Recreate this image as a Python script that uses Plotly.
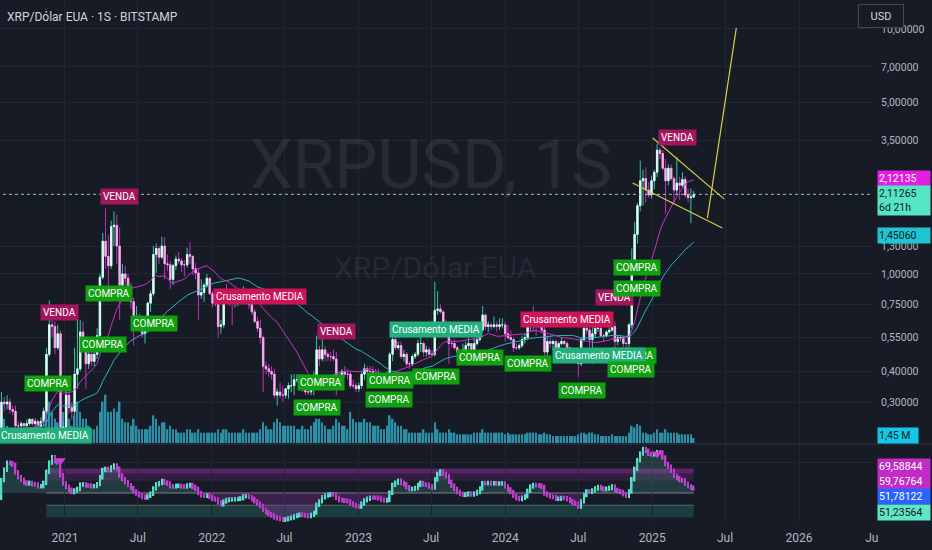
import math
import pandas as pd
import plotly.graph_objects as go

# weekly XRP/USD candles (Bitstamp), one row per month
first_open = 0.200
closes = [
    0.198, 0.195, 0.183, 0.178, 0.180,
    0.198, 0.197, 0.224, 0.300,
    0.295, 0.300, 0.280, 0.275, 0.240,
    0.240, 0.245, 0.240, 0.245,
    0.255, 0.245, 0.250, 0.240,
    0.250, 0.275, 0.470, 0.620, 0.610,
    0.500, 0.570, 0.230, 0.237,
    0.320, 0.285, 0.275, 0.390,
    0.410, 0.580, 0.490, 0.430,
    0.470, 0.440, 0.470, 0.560, 0.970,
    1.360, 1.180, 1.080, 1.560,
    1.580, 1.300, 0.900, 1.000, 0.960,
    0.860, 0.770, 0.640, 0.650,
    0.620, 0.570, 0.620, 0.760,
    0.830, 1.200, 1.270, 1.170, 1.300,
    1.100, 1.090, 0.950, 1.080,
    1.150, 1.130, 1.090, 1.090,
    1.200, 1.180, 1.050, 1.010, 0.820,
    0.840, 0.900, 0.960, 0.830,
    0.760, 0.790, 0.610, 0.620, 0.830,
    0.800, 0.780, 0.760, 0.770,
    0.770, 0.800, 0.860, 0.810,
    0.750, 0.700, 0.640, 0.600,
    0.550, 0.420, 0.410, 0.400, 0.390,
    0.320, 0.330, 0.320, 0.320,
    0.340, 0.350, 0.350, 0.370,
    0.370, 0.370, 0.340, 0.330, 0.330,
    0.350, 0.370, 0.490, 0.450,
    0.490, 0.470, 0.460, 0.460, 0.450,
    0.380, 0.380, 0.400, 0.390,
    0.390, 0.350, 0.350, 0.340,
    0.350, 0.390, 0.410, 0.400, 0.400,
    0.390, 0.390, 0.380, 0.370,
    0.370, 0.380, 0.470, 0.540,
    0.500, 0.510, 0.460, 0.470,
    0.430, 0.430, 0.460, 0.470, 0.520,
    0.520, 0.480, 0.490, 0.470,
    0.470, 0.710, 0.720, 0.700, 0.630,
    0.610, 0.520, 0.520, 0.500,
    0.480, 0.480, 0.490, 0.510,
    0.520, 0.490, 0.520, 0.540, 0.590,
    0.680, 0.610, 0.620, 0.610,
    0.620, 0.610, 0.620, 0.620,
    0.570, 0.550, 0.540, 0.500, 0.500,
    0.510, 0.540, 0.550, 0.630,
    0.650, 0.630, 0.610, 0.610,
    0.590, 0.480, 0.530, 0.520, 0.530,
    0.500, 0.520, 0.530, 0.520,
    0.500, 0.480, 0.470, 0.470,
    0.430, 0.540, 0.600, 0.590, 0.540,
    0.570, 0.600, 0.600, 0.560,
    0.560, 0.580, 0.590, 0.610, 0.530,
    0.550, 0.550, 0.520, 0.520,
    0.620, 1.100, 1.450, 1.900,
    2.400, 2.450, 2.200, 2.100, 2.400,
    2.600, 3.200, 3.100, 2.700,
    2.400, 2.700, 2.450, 2.200,
    2.350, 2.300, 2.430, 2.100, 2.050,
    2.060, 2.113,
]
highs = [
    0.215, 0.205, 0.198, 0.185, 0.185,
    0.205, 0.205, 0.230, 0.330,
    0.315, 0.320, 0.310, 0.290, 0.290,
    0.250, 0.250, 0.248, 0.255,
    0.258, 0.258, 0.258, 0.255,
    0.260, 0.285, 0.500, 0.780, 0.700,
    0.640, 0.620, 0.590, 0.250,
    0.350, 0.330, 0.300, 0.500,
    0.750, 0.650, 0.640, 0.530,
    0.490, 0.490, 0.510, 0.600, 1.000,
    1.470, 1.850, 1.440, 1.650,
    1.800, 1.750, 1.550, 1.100, 1.080,
    1.000, 0.920, 0.800, 0.740,
    0.690, 0.640, 0.640, 0.770,
    0.860, 1.300, 1.330, 1.300, 1.420,
    1.410, 1.200, 1.130, 1.100,
    1.190, 1.230, 1.160, 1.140,
    1.280, 1.350, 1.190, 1.110, 1.050,
    0.950, 0.920, 1.000, 0.970,
    0.850, 0.800, 0.790, 0.650, 0.850,
    0.910, 0.870, 0.800, 0.830,
    0.800, 0.830, 0.890, 0.870,
    0.830, 0.790, 0.720, 0.670,
    0.650, 0.560, 0.440, 0.430, 0.420,
    0.410, 0.340, 0.360, 0.350,
    0.340, 0.360, 0.390, 0.390,
    0.390, 0.390, 0.380, 0.350, 0.340,
    0.360, 0.400, 0.560, 0.510,
    0.550, 0.510, 0.480, 0.480, 0.490,
    0.480, 0.400, 0.410, 0.420,
    0.410, 0.400, 0.370, 0.360,
    0.360, 0.400, 0.430, 0.420, 0.420,
    0.420, 0.410, 0.410, 0.390,
    0.390, 0.400, 0.480, 0.560,
    0.550, 0.530, 0.530, 0.490,
    0.480, 0.440, 0.470, 0.480, 0.540,
    0.560, 0.530, 0.510, 0.500,
    0.490, 0.930, 0.850, 0.750, 0.710,
    0.650, 0.640, 0.540, 0.540,
    0.510, 0.490, 0.520, 0.530,
    0.550, 0.520, 0.550, 0.570, 0.610,
    0.740, 0.690, 0.640, 0.630,
    0.670, 0.640, 0.660, 0.660,
    0.640, 0.620, 0.590, 0.550, 0.520,
    0.520, 0.560, 0.570, 0.670,
    0.700, 0.740, 0.660, 0.650,
    0.620, 0.630, 0.560, 0.560, 0.540,
    0.540, 0.530, 0.550, 0.540,
    0.530, 0.500, 0.500, 0.490,
    0.480, 0.550, 0.640, 0.630, 0.640,
    0.640, 0.640, 0.640, 0.610,
    0.570, 0.590, 0.620, 0.660, 0.640,
    0.560, 0.560, 0.560, 0.530,
    0.630, 1.270, 1.630, 1.950,
    2.900, 2.660, 2.720, 2.370, 2.520,
    2.660, 3.400, 3.280, 3.200,
    2.950, 2.800, 2.800, 2.500,
    3.000, 2.490, 2.600, 2.500, 2.230,
    2.230, 2.180,
]
lows = [
    0.195, 0.185, 0.178, 0.170, 0.172,
    0.178, 0.190, 0.195, 0.222,
    0.275, 0.280, 0.270, 0.265, 0.225,
    0.228, 0.235, 0.230, 0.238,
    0.240, 0.240, 0.240, 0.230,
    0.235, 0.240, 0.270, 0.460, 0.550,
    0.470, 0.490, 0.205, 0.200,
    0.230, 0.270, 0.255, 0.265,
    0.340, 0.400, 0.480, 0.340,
    0.410, 0.420, 0.420, 0.450, 0.550,
    0.950, 1.050, 0.880, 1.050,
    1.300, 1.100, 0.650, 0.820, 0.900,
    0.770, 0.720, 0.510, 0.620,
    0.590, 0.550, 0.520, 0.600,
    0.700, 0.810, 1.010, 1.100, 1.150,
    0.950, 1.030, 0.870, 0.900,
    1.040, 1.100, 1.020, 0.980,
    1.060, 1.100, 0.990, 0.950, 0.650,
    0.790, 0.770, 0.880, 0.820,
    0.730, 0.740, 0.550, 0.570, 0.600,
    0.760, 0.740, 0.620, 0.730,
    0.740, 0.750, 0.790, 0.800,
    0.720, 0.680, 0.630, 0.580,
    0.520, 0.330, 0.390, 0.380, 0.370,
    0.310, 0.290, 0.310, 0.300,
    0.310, 0.310, 0.330, 0.320,
    0.360, 0.360, 0.330, 0.320, 0.320,
    0.320, 0.320, 0.360, 0.420,
    0.440, 0.440, 0.440, 0.440, 0.440,
    0.320, 0.360, 0.360, 0.380,
    0.370, 0.340, 0.340, 0.330,
    0.330, 0.340, 0.370, 0.390, 0.390,
    0.370, 0.360, 0.370, 0.360,
    0.350, 0.360, 0.370, 0.440,
    0.490, 0.490, 0.450, 0.440,
    0.420, 0.410, 0.420, 0.450, 0.460,
    0.480, 0.460, 0.460, 0.460,
    0.460, 0.460, 0.680, 0.690, 0.620,
    0.600, 0.430, 0.500, 0.490,
    0.470, 0.460, 0.480, 0.490,
    0.490, 0.470, 0.480, 0.510, 0.530,
    0.580, 0.590, 0.580, 0.590,
    0.600, 0.580, 0.590, 0.600,
    0.530, 0.540, 0.530, 0.480, 0.490,
    0.490, 0.500, 0.520, 0.540,
    0.580, 0.580, 0.560, 0.600,
    0.570, 0.420, 0.460, 0.500, 0.490,
    0.490, 0.490, 0.510, 0.510,
    0.480, 0.460, 0.460, 0.460,
    0.380, 0.420, 0.530, 0.570, 0.500,
    0.430, 0.550, 0.580, 0.550,
    0.530, 0.550, 0.570, 0.580, 0.500,
    0.510, 0.530, 0.500, 0.490,
    0.500, 0.600, 1.050, 1.330,
    1.800, 1.900, 1.960, 2.050, 2.030,
    2.220, 2.480, 2.940, 2.650,
    1.770, 2.300, 2.400, 1.950,
    2.100, 2.000, 2.240, 2.050, 1.960,
    1.610, 2.050,
]
volumes = [  # millions
    3, 3, 3, 3, 3,
    3, 3, 4, 8,
    7, 5, 4, 3, 4,
    3, 3, 3, 3,
    2.5, 2.5, 2.5, 2.5,
    3, 4, 9, 12, 9,
    7, 6, 12, 9,
    9, 7, 5, 8,
    12, 9, 7, 7,
    5, 4, 4, 5, 9,
    12, 14, 9, 9,
    10, 9, 12, 7, 6,
    6, 5, 7, 5,
    4, 4, 4, 4,
    5, 8, 7, 5, 6,
    6, 4, 5, 4,
    4, 3, 3, 3,
    4, 4, 3, 3, 4,
    3, 3, 3, 3,
    3, 3, 4, 3, 4,
    4, 3, 3, 3,
    3, 3, 4, 3,
    3, 3, 3, 3,
    4, 6, 5, 4, 4,
    6, 7, 6, 5,
    5, 5, 5, 5,
    4, 4, 5, 4, 4,
    5, 6, 7, 7,
    6, 5, 4, 4, 5,
    7, 6, 5, 5,
    4, 9, 7, 6,
    6, 6, 7, 6, 6,
    5, 5, 5, 4,
    4, 5, 8, 7,
    6, 5, 5, 4,
    4, 3, 3, 3, 3,
    3, 4, 3, 3,
    3, 6, 4, 3, 3,
    3, 4, 3, 3,
    2.5, 2.5, 2.5, 2.5,
    2.5, 2.5, 3, 3, 3,
    4, 3, 3, 3,
    3, 3, 3, 3,
    2.5, 3, 2.5, 2.5, 2.5,
    2.5, 2.5, 2.5, 3,
    3, 3, 3, 2.5,
    2.5, 3, 2.5, 2.5, 2,
    2, 2, 2, 2,
    2, 2, 2, 2,
    2.5, 3, 3, 2.5, 3,
    3, 2.5, 2.5, 2,
    2, 2, 2, 2.5, 2,
    2, 2, 2, 2,
    3, 5, 4.5, 5.5,
    5, 3, 3, 2.5, 2.5,
    3, 4, 3, 3,
    4, 3, 3, 3,
    3, 2.5, 2.5, 2.5, 2.5,
    2.5, 1.45,
]

# script signals (label date, price, kind)
sig_dates = ["2020-11-12", "2020-11-20", "2020-12-19", "2021-04-05", "2021-04-20",
             "2021-05-17", "2021-08-10", "2022-04-30", "2022-09-29", "2022-09-19",
             "2022-11-08", "2023-03-21", "2023-03-19", "2023-07-12", "2023-07-14",
             "2023-10-31", "2024-02-28", "2024-06-04", "2024-11-13", "2024-08-22",
             "2024-07-09", "2024-11-08", "2024-09-29", "2024-11-25", "2024-11-25",
             "2025-03-04"]
sig_prices = [0.220, 0.356, 0.693, 0.513, 0.836,
              2.08, 0.625, 0.806, 0.362, 0.284,
              0.585, 0.366, 0.306, 0.380, 0.591,
              0.454, 0.433, 0.649, 0.463, 0.463,
              0.333, 0.409, 0.798, 0.869, 1.058,
              3.59]
sig_kinds = ["cross_up", "buy", "sell", "buy", "buy",
             "sell", "buy", "cross_dn", "buy", "buy",
             "sell", "buy", "buy", "buy", "cross_up",
             "buy", "buy", "cross_dn", "buy", "cross_up",
             "buy", "buy", "sell", "buy", "buy",
             "sell"]

# hand-drawn trend lines
trend_upper_dates = ["2025-01-02", "2025-06-29"]
trend_upper_prices = [3.59, 2.02]
trend_lower_dates = ["2024-11-13", "2025-06-24"]
trend_lower_prices = [2.35, 1.54]
trend_target_dates = ["2025-05-18", "2025-07-29"]
trend_target_prices = [1.69, 10.1]

price_ticks = [0.2, 0.3, 0.4, 0.55, 0.75, 1.0, 1.3, 3.5, 5.0, 7.0, 10.0]
x_ticks = ["2021-01-01", "2021-07-01", "2022-01-01", "2022-07-01", "2023-01-01",
           "2023-07-01", "2024-01-01", "2024-07-01", "2025-01-01", "2025-07-01",
           "2026-01-01", "2026-07-01"]
x_tick_text = ["2021", "Jul", "2022", "Jul", "2023", "Jul", "2024", "Jul",
               "2025", "Jul", "2026", "Ju"]

osc_levels = [70, 66, 60, 50, 40, 30]
osc_band_start = "2020-11-16"
osc_mark_dates = ["2020-12-21", "2025-01-13"]
osc_mark_levels = [76.5, 82.0]

weeks = pd.date_range("2020-06-01", periods=len(closes), freq="W-MON")
opens = [first_open] + closes[:-1]
body_hi = [max(o, c) for o, c in zip(opens, closes)]
body_lo = [min(o, c) for o, c in zip(opens, closes)]

cs = pd.Series(closes, index=weeks)
ma_fast = cs.rolling(20, min_periods=1).mean()
ma_slow = cs.rolling(50, min_periods=1).mean()

diff = cs.diff().fillna(0)
gain = diff.clip(lower=0).ewm(alpha=1 / 14, adjust=False).mean()
loss = (-diff.clip(upper=0)).ewm(alpha=1 / 14, adjust=False).mean()
rsi = (100 - 100 / (1 + gain / loss.replace(0, 1e-9))).fillna(50)
osc = rsi.ewm(span=5, adjust=False).mean()
osc_prev = osc.shift(1).fillna(osc.iloc[0])

BG = "#171b26"
GRID = "#222632"
TXT = "#b2b5be"
FONT = "Roboto"
DAY = 86400000
RIB = 1.8  # half thickness of the oscillator ribbon

fig = go.Figure()

# volume on the base axis so candles sit above it
fig.add_trace(go.Bar(x=weeks, y=volumes, width=4 * DAY, marker_color="#2b8fa8",
                     marker_line_width=0, xaxis="x", yaxis="y", hoverinfo="skip"))

# wicks
fig.add_trace(go.Candlestick(
    x=weeks, open=opens, high=highs, low=lows, close=closes,
    xaxis="x", yaxis="y3", whiskerwidth=0,
    increasing=dict(line=dict(color="#33c9a0", width=1), fillcolor="#33c9a0"),
    decreasing=dict(line=dict(color="#c42fc0", width=1), fillcolor="#c42fc0"),
    hoverinfo="skip"))
# bodies
fig.add_trace(go.Candlestick(
    x=weeks, open=opens, high=body_hi, low=body_lo, close=closes,
    xaxis="x", yaxis="y3", whiskerwidth=0,
    increasing=dict(line=dict(color="#e8fbf8", width=0.8), fillcolor="#e8fbf8"),
    decreasing=dict(line=dict(color="#efb7e4", width=0.8), fillcolor="#efb7e4"),
    hoverinfo="skip"))

fig.add_trace(go.Scatter(x=weeks, y=ma_slow, mode="lines", xaxis="x", yaxis="y3",
                         line=dict(color="#26b6c2", width=1)))
fig.add_trace(go.Scatter(x=weeks, y=ma_fast, mode="lines", xaxis="x", yaxis="y3",
                         line=dict(color="#c833c8", width=1)))

# last price line
fig.add_trace(go.Scatter(x=["2020-07-01", "2026-08-01"], y=[closes[-1]] * 2, mode="lines",
                         xaxis="x", yaxis="y3",
                         line=dict(color="#8fc8c0", width=1, dash="dot")))

for d, p in [(trend_upper_dates, trend_upper_prices),
             (trend_lower_dates, trend_lower_prices),
             (trend_target_dates, trend_target_prices)]:
    fig.add_trace(go.Scatter(x=d, y=p, mode="lines", xaxis="x", yaxis="y3",
                             line=dict(color="#d9cc45", width=1.2)))

# oscillator pane: shaded area between the line and the midline
mid = [osc_levels[3]] * len(weeks)
fig.add_trace(go.Scatter(x=weeks, y=mid, mode="lines", line=dict(width=0), xaxis="x2", yaxis="y2"))
fig.add_trace(go.Scatter(x=weeks, y=osc.clip(lower=osc_levels[3]), mode="lines", line=dict(width=0),
                         fill="tonexty", fillcolor="rgba(80,170,160,0.22)", xaxis="x2", yaxis="y2"))
fig.add_trace(go.Scatter(x=weeks, y=mid, mode="lines", line=dict(width=0), xaxis="x2", yaxis="y2"))
fig.add_trace(go.Scatter(x=weeks, y=osc.clip(upper=osc_levels[3]), mode="lines", line=dict(width=0),
                         fill="tonexty", fillcolor="rgba(150,50,170,0.28)", xaxis="x2", yaxis="y2"))

# hatched ribbon following the oscillator, coloured by direction
rib_lo = [min(a, b) - RIB for a, b in zip(osc_prev, osc)]
rib_h = [abs(a - b) + 2 * RIB for a, b in zip(osc_prev, osc)]
rib_col = ["#55e6cc" if b >= a else "#c43cd0" for a, b in zip(osc_prev, osc)]
fig.add_trace(go.Bar(x=weeks, y=rib_h, base=rib_lo, width=4 * DAY,
                     marker=dict(color=rib_col, line_width=0),
                     xaxis="x2", yaxis="y2", hoverinfo="skip"))
fig.add_trace(go.Scatter(x=osc_mark_dates, y=osc_mark_levels, mode="markers",
                         marker=dict(symbol="triangle-down", size=9, color="#d23fd6"),
                         xaxis="x2", yaxis="y2"))

band_end = weeks[-1]
shapes = [
    dict(type="line", xref="paper", yref="paper", x0=0, x1=1.07, y0=0.1494, y1=0.1494,
         line=dict(color="#2a2e39", width=1.5)),
    dict(type="rect", xref="x2", yref="y2", x0=osc_band_start, x1=band_end,
         y0=osc_levels[1], y1=osc_levels[0], line_width=0,
         fillcolor="rgba(160,45,170,0.50)", layer="below"),
    dict(type="rect", xref="x2", yref="y2", x0=osc_band_start, x1=band_end,
         y0=osc_levels[2], y1=osc_levels[1], line_width=0,
         fillcolor="rgba(140,45,155,0.22)", layer="below"),
    dict(type="rect", xref="x2", yref="y2", x0=osc_band_start, x1=band_end,
         y0=osc_levels[5], y1=osc_levels[4], line_width=0,
         fillcolor="rgba(40,140,125,0.30)", layer="below"),
    dict(type="line", xref="x2", yref="y2", x0=osc_band_start, x1=band_end,
         y0=osc_levels[3], y1=osc_levels[3], line=dict(color="#7c8086", width=1), layer="below"),
    dict(type="line", xref="x2", yref="y2", x0=osc_band_start, x1=band_end,
         y0=osc_levels[4], y1=osc_levels[4], line=dict(color="#4f6a6a", width=1), layer="below"),
]

# annotations
kind_style = {
    "buy": ("COMPRA", "#10a010"),
    "sell": ("VENDA", "#a3165e"),
    "cross_up": ("Crusamento MEDIA", "#21b07c"),
    "cross_dn": ("Crusamento MEDIA", "#cc1457"),
}
ann = []
for d, p, k in zip(sig_dates, sig_prices, sig_kinds):
    text, col = kind_style[k]
    ann.append(dict(x=d, y=math.log10(p), xref="x", yref="y3", text=text, showarrow=False,
                    yanchor="middle", bgcolor=col, borderpad=2,
                    font=dict(family=FONT, size=10, color="white")))

# watermark and header
ann.append(dict(x=0.494, y=0.684, xref="paper", yref="paper", text="XRPUSD, 1S", showarrow=False,
                yanchor="middle", font=dict(family=FONT, size=68, color="rgba(255,255,255,0.075)")))
ann.append(dict(x=0.499, y=0.487, xref="paper", yref="paper", text="XRP/Dólar EUA", showarrow=False,
                yanchor="middle", font=dict(family=FONT, size=30, color="rgba(255,255,255,0.075)")))
ann.append(dict(x=0.006, y=0.968, xref="paper", yref="paper", xanchor="left", yanchor="middle",
                text="XRP/Dólar EUA · 1S · BITSTAMP", showarrow=False,
                font=dict(family=FONT, size=12, color="#d1d4dc")))
ann.append(dict(x=1.0367, y=0.969, xref="paper", yref="paper", text="USD", showarrow=False,
                yanchor="middle", width=38, height=16, bgcolor=BG, bordercolor="#434651",
                borderwidth=1, borderpad=3, font=dict(family=FONT, size=11, color="#d1d4dc")))

side_labels = [
    ("2,12135", 0.659, "#e21ee0", "white"),
    ("2,11265<br>6d 21h", 0.615, "#55e5c4", "#131722"),
    ("1,45060", 0.549, "#1ec6d2", "#131722"),
    ("1,45 M", 0.1657, "#12c8e8", "#131722"),
    ("69,58844", 0.1063, "#c22cc6", "white"),
    ("59,76764", 0.0776, "#c22cc6", "white"),
    ("51,78122", 0.0479, "#2962ff", "white"),
    ("51,23564", 0.0182, "#5ee6c6", "#131722"),
]
for text, py, bg, fg in side_labels:
    ann.append(dict(x=1.0, y=py, xref="paper", yref="paper", xanchor="left", yanchor="middle",
                    xshift=5, text=text, showarrow=False, align="left", bgcolor=bg, borderpad=1,
                    width=50 if "M" not in text else 38,
                    font=dict(family=FONT, size=10.5, color=fg)))

def fmt(v):
    return f"{v:.5f}".replace(".", ",")

fig.update_layout(
    width=932, height=550,
    margin=dict(l=0, r=60, t=0, b=28),
    paper_bgcolor=BG, plot_bgcolor=BG,
    showlegend=False, barmode="overlay", hovermode=False,
    font=dict(family=FONT, color=TXT, size=11),
    xaxis=dict(domain=[0, 1], anchor="y", type="date",
               range=["2020-07-23 10:00", "2026-07-01 12:00"],
               tickvals=x_ticks, showticklabels=False, showgrid=True, gridcolor=GRID,
               zeroline=False, rangeslider=dict(visible=False)),
    xaxis2=dict(domain=[0, 1], anchor="y2", type="date", matches="x",
                tickvals=x_ticks, ticktext=x_tick_text, showgrid=True, gridcolor=GRID,
                zeroline=False, ticks="", ticklabelstandoff=7,
                tickfont=dict(size=12, color=TXT), rangeslider=dict(visible=False)),
    yaxis=dict(domain=[0.1513, 1], range=[0, 128], visible=False, fixedrange=True),
    yaxis3=dict(overlaying="y", side="right", anchor="x", type="log",
                range=[-0.690, 1.118], tickvals=price_ticks,
                ticktext=[fmt(v) for v in price_ticks],
                showgrid=True, gridcolor=GRID, zeroline=False, ticks="",
                ticklabelstandoff=8, tickfont=dict(size=10.5, color=TXT)),
    yaxis2=dict(domain=[0, 0.1475], anchor="x2", side="right", range=[26.3, 89.2],
                showticklabels=False, tickvals=[75], showgrid=True, gridcolor=GRID,
                zeroline=False),
    shapes=shapes,
    annotations=ann,
)

fig.write_html("out.html", config={"displayModeBar": False},
               post_script="document.body.style.margin='0';")
